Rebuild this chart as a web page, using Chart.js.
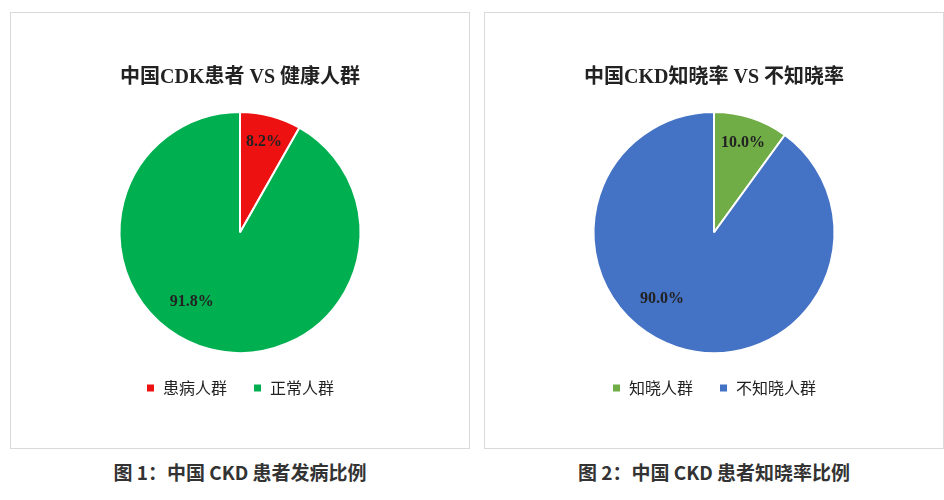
<!DOCTYPE html>
<html><head><meta charset="utf-8">
<script src="https://cdn.jsdelivr.net/npm/chart.js@4"></script>
<style>
body{margin:0;width:944px;height:500px;background:#fff;position:relative;font-family:"Noto Sans CJK SC",sans-serif;}
.panel{position:absolute;top:12px;width:460px;height:437px;border:1px solid #d9d9d9;box-sizing:border-box;}
.cap{position:absolute;top:458px;width:460px;text-align:center;font-size:19px;font-weight:bold;color:#333;}
canvas{display:block}
</style></head><body>
<div class="panel" style="left:10px"><canvas id="c1" width="458" height="435"></canvas></div>
<div class="panel" style="left:484px"><canvas id="c2" width="458" height="435"></canvas></div>
<div class="cap" style="left:10px">图 1：中国 CKD 患者发病比例</div>
<div class="cap" style="left:484px">图 2：中国 CKD 患者知晓率比例</div>
<script>
const titles=["中国CDK患者 VS 健康人群","中国CKD知晓率 VS 不知晓率"];
const labels1=["患病人群","正常人群"];
const values1=[8.2,91.8];
const colors1=["#ee1111","#00b050"];
const labels2=["知晓人群","不知晓人群"];
const values2=[10.0,90.0];
const colors2=["#70ad47","#4472c4"];

const pctPlugin={id:"pct",afterDatasetsDraw(chart){
  const ctx=chart.ctx;const meta=chart.getDatasetMeta(0);
  ctx.save();ctx.font="bold 16px 'Liberation Serif','Times New Roman',serif";ctx.fillStyle="#222";
  ctx.textAlign="center";ctx.textBaseline="middle";
  meta.data.forEach((arc,i)=>{
    const v=chart.data.datasets[0].data[i];
    const mid=(arc.startAngle+arc.endAngle)/2;
    const f=v<50?0.78:0.7;
    const adj=v<50?0:0.35;
    const r=arc.outerRadius*f;
    ctx.fillText(v.toFixed(1)+"%",arc.x+Math.cos(mid+adj)*r,arc.y+Math.sin(mid+adj)*r);
  });ctx.restore();}};

function make(id,t,labels,values,colors){
  new Chart(document.getElementById(id),{type:"pie",
    data:{labels,datasets:[{data:values,backgroundColor:colors,borderColor:"#fff",borderWidth:2}]},
    options:{responsive:false,animation:false,
      layout:{padding:{top:0,bottom:42,left:0,right:0}},
      plugins:{title:{display:true,text:t,color:"#222",font:{size:20,weight:"bold",family:"'Liberation Serif','Noto Sans CJK SC',serif"},padding:{top:53,bottom:21}},
        legend:{position:"bottom",labels:{boxWidth:9,boxHeight:9,padding:26,color:"#222",font:{size:16,family:"'Noto Sans CJK SC',sans-serif"}}},
        tooltip:{enabled:false}}},
    plugins:[pctPlugin]});
}
make("c1",titles[0],labels1,values1,colors1);
make("c2",titles[1],labels2,values2,colors2);
</script></body></html>
